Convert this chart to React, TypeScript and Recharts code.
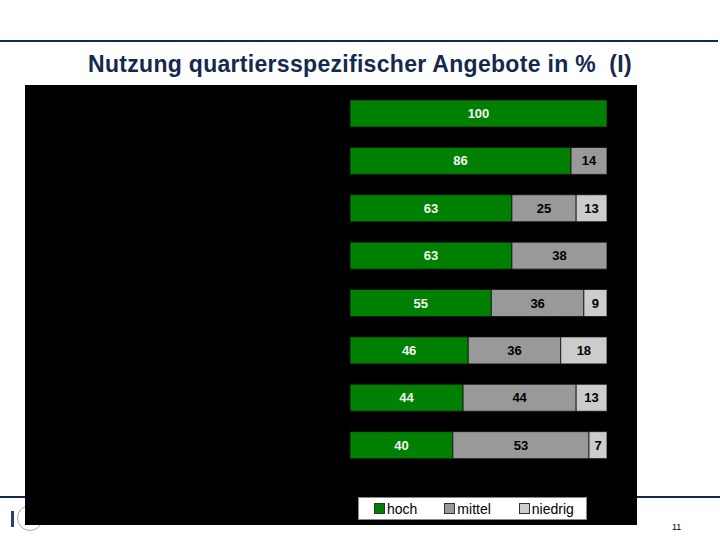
import React from 'react';
import { BarChart, Bar, XAxis, YAxis, Legend, LabelList } from 'recharts';

// row labels are not readable in the original (black on black)
const categories = ['A1', 'A2', 'A3', 'A4', 'A5', 'A6', 'A7', 'A8'];
const hoch = [100, 86, 63, 63, 55, 46, 44, 40];
const mittel = [0, 14, 25, 38, 36, 36, 44, 53];
const niedrig = [0, 0, 13, 0, 9, 18, 13, 7];

const seriesNames = ['hoch', 'mittel', 'niedrig'];
const seriesColors = ['#008000', '#999999', '#cccccc'];

const data = categories.map((name, i) => ({
  name,
  hoch: hoch[i],
  mittel: mittel[i],
  niedrig: niedrig[i],
}));

const FONT = "Arial, 'Liberation Sans', sans-serif";
const NAVY = '#14294d';

const hideZero = (v: any) => (v ? v : '');

const LegendBox = () => (
  <div
    style={{
      background: '#fff',
      border: '1px solid #888',
      width: 229,
      height: 23,
      display: 'flex',
      alignItems: 'center',
      fontFamily: FONT,
      fontSize: 14,
      color: '#000',
      boxSizing: 'border-box',
      paddingLeft: 15,
    }}
  >
    {seriesNames.map((s, i) => (
      <div
        key={s}
        style={{ display: 'flex', alignItems: 'center', marginRight: i === 0 ? 27 : 28 }}
      >
        <span
          style={{
            width: 9,
            height: 9,
            background: seriesColors[i],
            border: '1px solid #333',
            marginRight: 2,
            display: 'inline-block',
          }}
        />
        <span>{s}</span>
      </div>
    ))}
  </div>
);

export default function App() {
  return (
    <div
      style={{
        position: 'absolute',
        left: 0,
        top: 0,
        width: 720,
        height: 540,
        background: '#fff',
        overflow: 'hidden',
        fontFamily: FONT,
      }}
    >
      {/* top rule */}
      <div style={{ position: 'absolute', left: 0, top: 40, width: 718, height: 1.5, background: NAVY }} />
      <div
        style={{
          position: 'absolute',
          left: 0,
          top: 51,
          width: 720,
          textAlign: 'center',
          fontSize: 23,
          fontWeight: 'bold',
          color: NAVY,
          letterSpacing: 0.3,
        }}
      >
        Nutzung quartiersspezifischer Angebote in %&nbsp;&nbsp;(I)
      </div>

      {/* bottom rule */}
      <div style={{ position: 'absolute', left: 0, top: 496, width: 720, height: 1.5, background: NAVY }} />
      <div style={{ position: 'absolute', left: 11, top: 511, width: 3, height: 16, background: '#2a3f7a' }} />
      <div
        style={{
          position: 'absolute',
          left: 17,
          top: 505,
          width: 26,
          height: 26,
          borderRadius: '50%',
          border: '1px solid #aaa',
          boxSizing: 'border-box',
        }}
      />
      <div style={{ position: 'absolute', left: 672, top: 522, fontSize: 9, color: '#000' }}>11</div>

      <div style={{ position: 'absolute', left: 25, top: 85, width: 612, height: 440, background: '#000' }}>
        <BarChart
          width={612}
          height={440}
          data={data}
          layout="vertical"
          margin={{ top: 5, right: 30, bottom: 33, left: 325 }}
          barSize={27}
        >
          <XAxis type="number" domain={[0, 100]} allowDataOverflow hide />
          <YAxis type="category" dataKey="name" hide />
          <Legend
            content={<LegendBox />}
            verticalAlign="bottom"
            wrapperStyle={{ left: 333, top: 412, width: 230, height: 23, bottom: 'auto' }}
          />
          {seriesNames.map((s, i) => (
            <Bar
              key={s}
              dataKey={s}
              stackId="a"
              fill={seriesColors[i]}
              stroke="#111"
              strokeWidth={0.8}
              isAnimationActive={false}
            >
              <LabelList
                dataKey={s}
                position="center"
                formatter={hideZero}
                fill={i === 0 ? '#f4f4f4' : '#000'}
                style={{ fontSize: 13, fontWeight: 'bold', fontFamily: FONT }}
              />
            </Bar>
          ))}
        </BarChart>
      </div>
    </div>
  );
}
